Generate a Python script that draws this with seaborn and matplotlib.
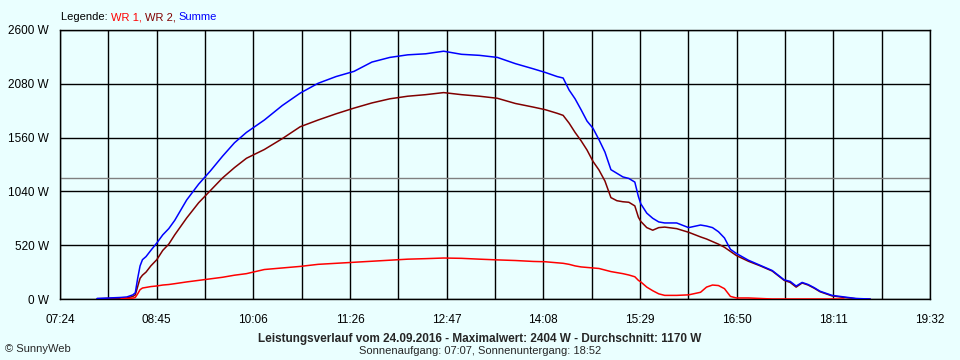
import numpy as np
import pandas as pd
import matplotlib
matplotlib.use("Agg")
import matplotlib.pyplot as plt
import seaborn as sns

# Messzeitpunkte und Leistung (W)
times = ["07:55", "08:05", "08:15", "08:20", "08:25", "08:27", "08:29", "08:31", "08:33", "08:36",
         "08:40", "08:45", "08:50", "08:55", "09:00", "09:10", "09:20", "09:30", "09:40", "09:50",
         "10:00", "10:15", "10:30", "10:45", "11:00", "11:15", "11:30", "11:45", "12:00", "12:15",
         "12:30", "12:45", "13:00", "13:15", "13:30", "13:45", "14:00", "14:10", "14:20", "14:25",
         "14:30", "14:35", "14:40", "14:45", "14:50", "14:55", "15:00", "15:05", "15:10", "15:15",
         "15:20", "15:25", "15:28", "15:30", "15:35", "15:40", "15:45", "15:50", "16:00", "16:10",
         "16:20", "16:25", "16:30", "16:35", "16:40", "16:45", "16:50", "17:00", "17:10", "17:20",
         "17:30", "17:35", "17:40", "17:45", "17:50", "17:55", "18:00", "18:10", "18:20", "18:30",
         "18:42"]
wr1 = [None, None, 2, 5, 8, 15, 50, 90, 106, 112,
       120, 126, 135, 140, 148, 165, 180, 195, 210, 230,
       245, 285, 300, 315, 335, 345, 355, 365, 375, 385,
       390, 396, 393, 385, 378, 372, 363, 360, 350, 345,
       335, 320, 310, 305, 300, 295, 280, 265, 255, 245,
       232, 215, 180, 165, 115, 80, 50, 35, 35, 40,
       65, 115, 135, 130, 100, 25, 10, 10, 5, 0,
       0, 0, 0, 0, 0, 0, 0, 0, 0, None,
       None]
wr2 = [3, 5, 8, 10, 25, 40, 120, 200, 230, 260,
       320, 380, 470, 530, 620, 783, 930, 1050, 1170, 1270,
       1360, 1445, 1550, 1665, 1730, 1790, 1845, 1895, 1935, 1960,
       1975, 1995, 1975, 1960, 1940, 1890, 1855, 1830, 1795, 1775,
       1700, 1610, 1530, 1440, 1330, 1247, 1140, 980, 950, 940,
       935, 900, 790, 750, 690, 665, 690, 695, 680, 645,
       600, 580, 555, 530, 500, 460, 420, 365, 320, 270,
       180, 160, 115, 155, 135, 105, 70, 30, 15, 3,
       0]
summe = [5, 10, 15, 20, 40, 60, 200, 320, 380, 410,
         470, 541, 620, 680, 760, 957, 1110, 1240, 1380, 1510,
         1610, 1730, 1870, 1990, 2085, 2150, 2200, 2290, 2335, 2360,
         2370, 2395, 2365, 2355, 2335, 2275, 2225, 2190, 2150, 2136,
         2020, 1935, 1830, 1720, 1650, 1540, 1420, 1250, 1215, 1180,
         1165, 1130, 990, 920, 830, 780, 745, 735, 735, 690,
         715, 705, 690, 650, 590, 480, 440, 375, 325, 275,
         185, 170, 125, 160, 140, 110, 75, 35, 20, 5,
         0]

avg_power = 1170
ytick_vals = [0, 520, 1040, 1560, 2080, 2600]
xtick_labels = ["07:24", "08:45", "10:06", "11:26", "12:47", "14:08", "15:29", "16:50", "18:11", "19:32"]

def to_min(s):
    h, m = s.split(":")
    return int(h) * 60 + int(m)

df = pd.DataFrame({
    "t": [to_min(s) for s in times],
    "WR 1": [np.nan if v is None else v for v in wr1],
    "WR 2": wr2,
    "Summe": summe,
})

bg = "#EAFFFF"
sns.set_style("white")
plt.rcParams["font.family"] = ["Liberation Sans", "DejaVu Sans"]
plt.rcParams["font.size"] = 8

fig = plt.figure(figsize=(9.6, 3.6), dpi=100, facecolor=bg)
ax = fig.add_axes([60 / 960, 61 / 360, 870 / 960, 269 / 360])
ax.set_facecolor(bg)

t0, t1 = to_min(xtick_labels[0]), to_min(xtick_labels[-1])
ax.set_xlim(t0, t1)
ax.set_ylim(0, 2600)

# Gitter
for gx in np.linspace(t0, t1, 19):
    ax.axvline(gx, color="black", lw=1.0, zorder=1)
for gy in ytick_vals:
    ax.axhline(gy, color="black", lw=1.0, zorder=1)
ax.axhline(avg_power, color="#808080", lw=1.0, zorder=1)

sns.lineplot(data=df, x="t", y="WR 2", color="#800000", lw=1.1, ax=ax, zorder=3)
sns.lineplot(data=df, x="t", y="Summe", color="#0000FF", lw=1.1, ax=ax, zorder=4)
sns.lineplot(data=df.dropna(subset=["WR 1"]), x="t", y="WR 1", color="#FF0000", lw=1.1, ax=ax, zorder=5)

ax.set_xticks(np.linspace(t0, t1, 10))
ax.set_xticklabels(xtick_labels)
ax.set_xticks(np.linspace(t0, t1, 19), minor=True)
ax.set_yticks(ytick_vals)
ax.set_yticklabels([f"{v} W" for v in ytick_vals])
ax.tick_params(axis="both", which="both", direction="out", length=5, width=1.0,
               color="black", labelsize=8.5, labelcolor="black")
ax.tick_params(axis="x", which="major", pad=6)
ax.tick_params(axis="y", which="major", pad=3)
ax.set_xlabel("")
ax.set_ylabel("")
for sp in ax.spines.values():
    sp.set_color("black")
    sp.set_linewidth(1.0)

# Legende als farbiger Text
x0 = 61 / 960
y0 = 1 - 17 / 360
parts = [("Legende: ", "black"), ("WR 1, ", "#FF0000"), ("WR 2, ", "#800000"), ("Summe", "#0000FF")]
renderer = fig.canvas.get_renderer()
xpos = x0
for txt, col in parts:
    t = fig.text(xpos, y0, txt, color=col, fontsize=8, va="center", ha="left")
    bb = t.get_window_extent(renderer=renderer)
    xpos += bb.width / 960

fig.text(480 / 960, 1 - 339 / 360,
         "Leistungsverlauf vom 24.09.2016 - Maximalwert: 2404 W - Durchschnitt: 1170 W",
         ha="center", va="center", fontsize=8.5, fontweight="bold")
fig.text(480 / 960, 1 - 351 / 360, "Sonnenaufgang: 07:07, Sonnenuntergang: 18:52",
         ha="center", va="center", fontsize=8)
fig.text(5 / 960, 1 - 349 / 360, "© SunnyWeb", ha="left", va="center", fontsize=8)

fig.savefig("out.png", dpi=100, facecolor=bg)
